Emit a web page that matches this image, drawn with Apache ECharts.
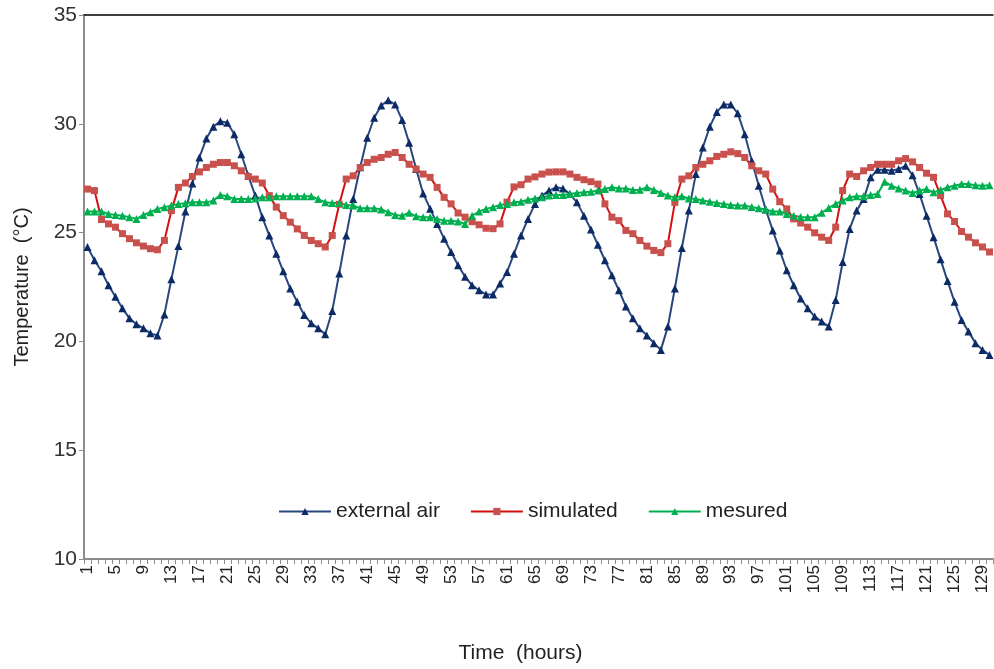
<!DOCTYPE html>
<html><head><meta charset="utf-8">
<script src="https://cdn.jsdelivr.net/npm/echarts@6/dist/echarts.min.js"></script>
<style>html,body{margin:0;padding:0;background:#fff}#c{width:994px;height:669px}</style>
</head><body><div id="c"></div>
<script>
const hours = Array.from({length:130},(_, k)=>String(k+1));
const externalAir = [24.34,23.73,23.22,22.58,22.05,21.52,21.06,20.79,20.6,20.37,20.27,21.24,22.86,24.38,25.97,27.26,28.45,29.32,29.87,30.12,
30.05,29.52,28.6,27.61,26.7,25.7,24.87,24.03,23.22,22.43,21.82,21.21,20.83,20.6,20.33,21.4,23.12,24.87,26.54,28.0,
29.36,30.28,30.84,31.08,30.89,30.17,29.13,27.92,26.8,26.1,25.4,24.72,24.11,23.5,22.97,22.58,22.35,22.16,22.16,22.66,
23.19,24.03,24.87,25.63,26.32,26.7,26.93,27.08,27.03,26.77,26.39,25.78,25.14,24.44,23.73,23.04,22.35,21.6,21.06,20.6,
20.27,19.92,19.61,20.68,22.43,24.29,26.01,27.69,28.91,29.87,30.54,30.89,30.89,30.48,29.52,28.3,27.15,26.06,25.1,24.18,
23.27,22.58,21.97,21.52,21.14,20.91,20.68,21.9,23.65,25.17,26.01,26.54,27.54,27.89,27.89,27.84,27.92,28.07,27.64,26.77,
25.78,24.79,23.77,22.77,21.82,20.98,20.45,19.92,19.61,19.37];
const simulated = [27.0,26.93,25.6,25.4,25.25,24.95,24.72,24.53,24.38,24.26,24.21,24.64,26.01,27.08,27.28,27.58,27.79,27.99,28.14,28.22,
28.22,28.07,27.84,27.58,27.46,27.28,26.7,26.17,25.78,25.48,25.17,24.87,24.64,24.49,24.34,24.87,26.3,27.46,27.61,27.99,
28.22,28.37,28.45,28.6,28.68,28.45,28.14,27.92,27.69,27.54,27.08,26.62,26.32,25.9,25.71,25.5,25.36,25.2,25.18,25.4,
26.4,27.1,27.2,27.46,27.56,27.69,27.78,27.79,27.79,27.69,27.54,27.43,27.34,27.23,26.32,25.71,25.55,25.1,24.95,24.64,
24.38,24.18,24.08,24.49,26.39,27.46,27.61,27.99,28.14,28.3,28.5,28.6,28.71,28.63,28.45,28.07,27.84,27.69,27.0,26.42,
26.09,25.63,25.44,25.25,24.99,24.79,24.64,25.25,26.93,27.69,27.58,27.84,27.99,28.14,28.14,28.14,28.3,28.4,28.25,27.99,
27.73,27.54,26.7,25.86,25.51,25.05,24.79,24.53,24.34,24.11];
const measured = [25.97,25.97,25.97,25.86,25.81,25.78,25.71,25.63,25.81,25.94,26.09,26.17,26.24,26.32,26.35,26.39,26.39,26.39,26.47,26.73,
26.67,26.54,26.54,26.54,26.57,26.62,26.62,26.67,26.67,26.67,26.67,26.67,26.67,26.54,26.39,26.36,26.36,26.27,26.24,26.12,
26.12,26.12,26.06,25.94,25.81,25.78,25.91,25.75,25.71,25.71,25.63,25.55,25.55,25.51,25.4,25.78,25.97,26.09,26.17,26.27,
26.32,26.39,26.42,26.51,26.57,26.62,26.7,26.73,26.73,26.77,26.82,26.85,26.88,26.93,27.0,27.08,27.03,27.03,26.96,26.97,
27.08,26.96,26.82,26.7,26.62,26.67,26.57,26.54,26.48,26.42,26.36,26.32,26.27,26.24,26.24,26.18,26.12,26.06,25.97,25.97,
25.86,25.78,25.72,25.71,25.71,25.91,26.13,26.32,26.47,26.62,26.67,26.67,26.73,26.77,27.34,27.15,27.03,26.93,26.82,26.93,
27.0,26.85,26.96,27.08,27.15,27.23,27.23,27.18,27.15,27.18];
const seriesNames = ['external air','simulated','mesured'];
const yTicks = [10,15,20,25,30,35];

const FONT = '"Liberation Sans", Arial, sans-serif';
const chart = echarts.init(document.getElementById('c'), null, {renderer:'canvas'});
chart.setOption({
  animation:false,
  backgroundColor:'#fff',
  grid:{left:84, right:1, top:15, bottom:107, containLabel:false},
  legend:{
    data:seriesNames, left:273, top:496, itemGap:30, itemWidth:52, itemHeight:9,
    textStyle:{fontFamily:FONT, fontSize:21, color:'#222'}
  },
  xAxis:[{
    type:'category', data:hours, boundaryGap:true,
    name:'Time  (hours)', nameLocation:'middle', nameGap:84,
    nameTextStyle:{fontFamily:FONT, fontSize:21, color:'#222', padding:[0,36,0,0]},
    axisLine:{lineStyle:{color:'#8c8c8c', width:2}},
    axisTick:{show:true, interval:0, length:5, lineStyle:{color:'#8c8c8c'}},
    axisLabel:{interval:3, rotate:90, fontFamily:FONT, fontSize:17, color:'#222', margin:6},
    splitLine:{show:false}
  },{
    type:'category', data:hours, position:'top', boundaryGap:true,
    axisLine:{show:true, lineStyle:{color:'#000', width:1.5}},
    axisTick:{show:false}, axisLabel:{show:false}, splitLine:{show:false}
  }],
  yAxis:{
    type:'value', min:yTicks[0], max:yTicks[yTicks.length-1], interval:5,
    name:'Temperature  (°C)', nameLocation:'middle', nameGap:52, nameRotate:90,
    nameTextStyle:{fontFamily:FONT, fontSize:20, color:'#222'},
    axisLine:{show:true, lineStyle:{color:'#8c8c8c', width:2}},
    axisTick:{show:true, length:5, lineStyle:{color:'#8c8c8c'}},
    axisLabel:{fontFamily:FONT, fontSize:21, color:'#333', margin:7},
    splitLine:{show:false}
  },
  series:[
    {name:seriesNames[0], type:'line', data:externalAir, symbol:'triangle', symbolSize:8, showAllSymbol:true,
     lineStyle:{color:'#28467e', width:2}, itemStyle:{color:'#0c2a66'}},
    {name:seriesNames[1], type:'line', data:simulated, symbol:'rect', symbolSize:7, showAllSymbol:true,
     lineStyle:{color:'#d40f0f', width:2}, itemStyle:{color:'#c8504d'}},
    {name:seriesNames[2], type:'line', data:measured, symbol:'triangle', symbolSize:8, showAllSymbol:true,
     lineStyle:{color:'#00b050', width:2}, itemStyle:{color:'#00b050'}}
  ]
});
</script></body></html>
